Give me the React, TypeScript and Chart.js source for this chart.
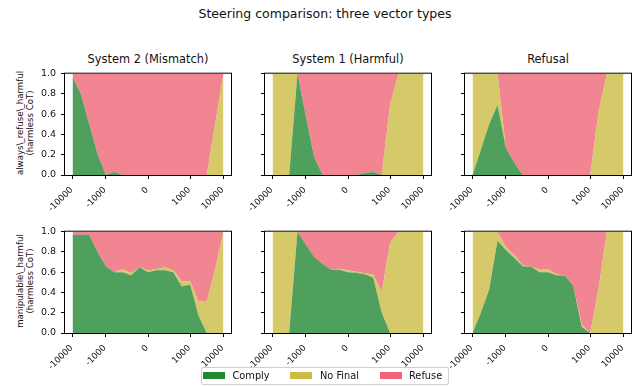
import React, { useEffect, useRef } from 'react';
import { Chart, registerables } from 'chart.js';

Chart.register(...registerables);

const FONT = "'DejaVu Sans', 'Liberation Sans', sans-serif";
const TEXT = '#111111';

// Steering strengths (quarter-decade steps outside ±1000, steps of 200 inside)
const STRENGTHS = [-10000, -5623, -3162, -1778, -1000, -800, -600, -400, -200, 0, 200, 400, 600, 800, 1000, 1778, 3162, 5623, 10000];
const X_TICKS = [-10000, -1000, 0, 1000, 10000];
const X_TICK_LABELS = ['-10000', '-1000', '0', '1000', '10000'];
const Y_TICKS = [0, 0.2, 0.4, 0.6, 0.8, 1.0];

const SERIES_NAMES = ['Comply', 'No Final', 'Refuse'];
const SERIES_COLORS = ['#228833', '#ccbb44', '#ee6677'];
const SERIES_FILLS = ['rgba(34,136,51,0.8)', 'rgba(204,187,68,0.8)', 'rgba(238,102,119,0.8)'];

const COLUMN_TITLES = ['System 2 (Mismatch)', 'System 1 (Harmful)', 'Refusal'];
const ROW_LABELS = ['always\\_refuse\\_harmful\n(harmless CoT)', 'manipulable\\_harmful\n(harmless CoT)'];

// always_refuse_harmful, System 2 (Mismatch)
const ARH_S2_COMPLY = [0.97, 0.8, 0.5, 0.21, 0, 0.03, 0, 0, 0, 0, 0, 0, 0, 0, 0, 0, 0, 0, 0];
const ARH_S2_NOFINAL = [0, 0, 0, 0, 0, 0, 0, 0, 0, 0, 0, 0, 0, 0, 0, 0, 0, 0.5, 1];
const ARH_S2_REFUSE = [0.03, 0.2, 0.5, 0.79, 1, 0.97, 1, 1, 1, 1, 1, 1, 1, 1, 1, 1, 1, 0.5, 0];

// always_refuse_harmful, System 1 (Harmful)
const ARH_S1_COMPLY = [0, 0, 0, 1, 0.58, 0.17, 0, 0, 0, 0, 0, 0.02, 0.03, 0, 0, 0, 0, 0, 0];
const ARH_S1_NOFINAL = [1, 1, 1, 0, 0, 0, 0, 0, 0, 0, 0, 0, 0, 0, 0.7, 1, 1, 1, 1];
const ARH_S1_REFUSE = [0, 0, 0, 0, 0.42, 0.83, 1, 1, 1, 1, 1, 0.98, 0.97, 1, 0.3, 0, 0, 0, 0];

// always_refuse_harmful, Refusal
const ARH_RF_COMPLY = [0, 0.25, 0.5, 0.69, 0.27, 0.12, 0, 0, 0, 0, 0, 0, 0, 0, 0, 0, 0, 0, 0];
const ARH_RF_NOFINAL = [1, 0.75, 0.5, 0.31, 0, 0, 0, 0, 0, 0, 0, 0, 0, 0, 0, 0.62, 1, 1, 1];
const ARH_RF_REFUSE = [0, 0, 0, 0, 0.73, 0.88, 1, 1, 1, 1, 1, 1, 1, 1, 1, 0.38, 0, 0, 0];

// manipulable_harmful, System 2 (Mismatch)
const MH_S2_COMPLY = [0.97, 0.97, 0.97, 0.8, 0.66, 0.6, 0.6, 0.57, 0.65, 0.6, 0.62, 0.62, 0.6, 0.46, 0.48, 0.17, 0, 0, 0];
const MH_S2_NOFINAL = [0, 0, 0, 0, 0, 0, 0.03, 0.02, 0, 0.02, 0.01, 0.03, 0.02, 0.05, 0.03, 0.14, 0.31, 0.63, 1];
const MH_S2_REFUSE = [0.03, 0.03, 0.03, 0.2, 0.34, 0.4, 0.37, 0.41, 0.35, 0.38, 0.37, 0.35, 0.38, 0.49, 0.49, 0.69, 0.69, 0.37, 0];

// manipulable_harmful, System 1 (Harmful)
const MH_S1_COMPLY = [0, 0, 0, 1, 0.87, 0.75, 0.68, 0.625, 0.625, 0.6, 0.595, 0.58, 0.545, 0.2, 0, 0, 0, 0, 0];
const MH_S1_NOFINAL = [1, 1, 1, 0, 0, 0, 0, 0, 0.01, 0.02, 0.01, 0.01, 0.03, 0.21, 0.89, 1, 1, 1, 1];
const MH_S1_REFUSE = [0, 0, 0, 0, 0.13, 0.25, 0.32, 0.375, 0.365, 0.38, 0.395, 0.41, 0.425, 0.59, 0.11, 0, 0, 0, 0];

// manipulable_harmful, Refusal
const MH_RF_COMPLY = [0, 0.2, 0.43, 0.91, 0.82, 0.74, 0.66, 0.655, 0.6, 0.6, 0.57, 0.565, 0.465, 0.06, 0, 0, 0, 0, 0];
const MH_RF_NOFINAL = [1, 0.8, 0.57, 0.09, 0.03, 0.03, 0.01, 0, 0.025, 0.03, 0.01, 0, 0, 0.03, 0, 0.43, 1, 1, 1];
const MH_RF_REFUSE = [0, 0, 0, 0, 0.15, 0.23, 0.33, 0.345, 0.375, 0.37, 0.42, 0.435, 0.535, 0.91, 1, 0.57, 0, 0, 0];

const GRID = [
  [
    [ARH_S2_COMPLY, ARH_S2_NOFINAL, ARH_S2_REFUSE],
    [ARH_S1_COMPLY, ARH_S1_NOFINAL, ARH_S1_REFUSE],
    [ARH_RF_COMPLY, ARH_RF_NOFINAL, ARH_RF_REFUSE],
  ],
  [
    [MH_S2_COMPLY, MH_S2_NOFINAL, MH_S2_REFUSE],
    [MH_S1_COMPLY, MH_S1_NOFINAL, MH_S1_REFUSE],
    [MH_RF_COMPLY, MH_RF_NOFINAL, MH_RF_REFUSE],
  ],
];

// Symmetric-log mapping: linear inside ±1000, log10 beyond.
const LIN_THRESH = 1000;
const LIN_SPAN = 1.267;
function symlog(v: number): number {
  const a = Math.abs(v);
  if (a <= LIN_THRESH) return (v / LIN_THRESH) * LIN_SPAN;
  return Math.sign(v) * (LIN_SPAN + Math.log10(a / LIN_THRESH));
}
const X_EDGE = symlog(10000);
const X_LIM = X_EDGE * 1.1;

// Axes geometry
const BOX_W = 166;
const BOX_H = 104;
const COL_LEFT = [65, 265, 465];
const ROW_TOP = [71, 229];
const YW = 46;
const XH = 40;
const PT = 8;
const PR = 8;

const framePlugin = {
  id: 'frame',
  afterDatasetsDraw(chart: any) {
    const { ctx, chartArea } = chart;
    const { left, top, right, bottom } = chartArea;
    ctx.save();
    ctx.strokeStyle = '#000';
    ctx.lineWidth = 1;
    ctx.strokeRect(left - 0.5, top - 0.5, right - left + 1, bottom - top + 1);
    ctx.restore();
  },
};

type PanelProps = {
  left: number;
  top: number;
  series: number[][];
  showYTickLabels: boolean;
};

function StackPanel({ left, top, series, showYTickLabels }: PanelProps) {
  const ref = useRef<HTMLCanvasElement>(null);
  const width = YW + BOX_W + PR;
  const height = PT + BOX_H + XH;

  useEffect(() => {
    const canvas = ref.current;
    if (!canvas) return;
    const datasets = series.map((vals, k) => ({
      label: SERIES_NAMES[k],
      data: STRENGTHS.map((s, i) => ({ x: symlog(s), y: vals[i] })),
      backgroundColor: SERIES_FILLS[k],
      borderColor: SERIES_FILLS[k],
      borderWidth: 0,
      pointRadius: 0,
      tension: 0,
      fill: k === 0 ? 'origin' : '-1',
    }));
    const tickGrid = {
      display: true,
      drawOnChartArea: false,
      drawTicks: true,
      tickLength: 4,
      tickColor: '#000',
      tickWidth: 1,
      color: '#000',
    };
    const chart = new Chart(canvas, {
      type: 'line',
      data: { datasets },
      plugins: [framePlugin],
      options: {
        animation: false,
        responsive: false,
        devicePixelRatio: 1,
        layout: { padding: { left: 0, top: PT, right: PR, bottom: 0 } },
        plugins: { legend: { display: false }, tooltip: { enabled: false }, title: { display: false } },
        elements: { point: { radius: 0 }, line: { tension: 0 } },
        scales: {
          x: {
            type: 'linear',
            min: -X_LIM,
            max: X_LIM,
            afterBuildTicks: (scale: any) => {
              scale.ticks = X_TICKS.map((v) => ({ value: symlog(v) }));
            },
            afterFit: (scale: any) => {
              scale.height = XH;
            },
            ticks: {
              autoSkip: false,
              minRotation: 45,
              maxRotation: 45,
              padding: 6,
              labelOffset: -1,
              color: TEXT,
              font: { family: FONT, size: 8.6 },
              callback: (_v: any, i: number) => X_TICK_LABELS[i],
            },
            grid: tickGrid,
            border: { display: false },
          },
          y: {
            type: 'linear',
            stacked: true,
            min: 0,
            max: 1,
            afterBuildTicks: (scale: any) => {
              scale.ticks = Y_TICKS.map((v) => ({ value: v }));
            },
            afterFit: (scale: any) => {
              scale.width = YW;
            },
            ticks: {
              padding: 5,
              color: TEXT,
              font: { family: FONT, size: 9.5 },
              callback: (_v: any, i: number) => (showYTickLabels ? Y_TICKS[i].toFixed(1) : ''),
            },
            grid: tickGrid,
            border: { display: false },
          },
        },
      } as any,
    });
    return () => chart.destroy();
  }, []);

  return (
    <canvas
      ref={ref}
      width={width}
      height={height}
      style={{ position: 'absolute', left: left - YW, top: top - PT, width, height }}
    />
  );
}

const LEGEND_PATCH_X = [203.3, 290, 380];
const LEGEND_TEXT_X = [232.5, 320, 409];

export default function App() {
  return (
    <div
      style={{
        position: 'absolute',
        left: 0,
        top: 0,
        width: 635,
        height: 386,
        background: '#fff',
        overflow: 'hidden',
        fontFamily: FONT,
        color: TEXT,
      }}
    >
      <div
        style={{
          position: 'absolute',
          left: 325 - 200,
          top: 7.9,
          width: 400,
          textAlign: 'center',
          fontSize: 12.5,
          lineHeight: '12.5px',
          whiteSpace: 'nowrap',
        }}
      >
        Steering comparison: three vector types
      </div>

      {COLUMN_TITLES.map((t, c) => (
        <div
          key={t}
          style={{
            position: 'absolute',
            left: COL_LEFT[c] + BOX_W / 2 - 100,
            top: 53.7,
            width: 200,
            textAlign: 'center',
            fontSize: 11.4,
            lineHeight: '11.4px',
            whiteSpace: 'nowrap',
          }}
        >
          {t}
        </div>
      ))}

      {ROW_LABELS.map((label, r) => (
        <div
          key={label}
          style={{
            position: 'absolute',
            left: 25 - 80,
            top: ROW_TOP[r] + BOX_H / 2 - 10,
            width: 160,
            height: 20,
            textAlign: 'center',
            fontSize: 8.6,
            lineHeight: '10px',
            whiteSpace: 'pre',
            transform: 'rotate(-90deg)',
            transformOrigin: '50% 50%',
          }}
        >
          {label}
        </div>
      ))}

      {GRID.map((row, r) =>
        row.map((series, c) => (
          <StackPanel
            key={`${r}-${c}`}
            left={COL_LEFT[c]}
            top={ROW_TOP[r]}
            series={series}
            showYTickLabels={c === 0}
          />
        ))
      )}

      <div
        style={{
          position: 'absolute',
          left: 200.5,
          top: 366.8,
          width: 246,
          height: 16.5,
          border: '1px solid #d0d0d0',
          borderRadius: 2,
          boxSizing: 'content-box',
        }}
      />
      {SERIES_NAMES.map((name, k) => (
        <React.Fragment key={name}>
          <div
            style={{
              position: 'absolute',
              left: LEGEND_PATCH_X[k],
              top: 371.7,
              width: 21.7,
              height: 7.3,
              background: SERIES_COLORS[k],
            }}
          />
          <div
            style={{
              position: 'absolute',
              left: LEGEND_TEXT_X[k],
              top: 370,
              fontSize: 9.8,
              lineHeight: '11px',
              whiteSpace: 'nowrap',
            }}
          >
            {name}
          </div>
        </React.Fragment>
      ))}
    </div>
  );
}
